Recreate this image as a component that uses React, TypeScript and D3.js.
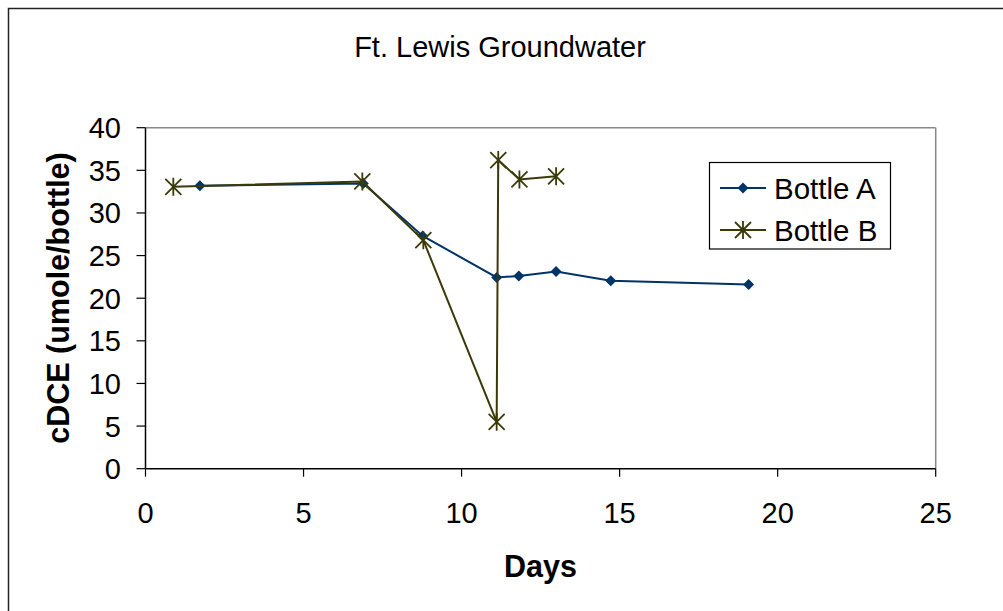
import React from "react";
import * as d3 from "d3";

const daysA = [1.72, 6.89, 8.77, 11.11, 11.81, 12.99, 14.72, 19.08];
const valuesA = [33.2, 33.45, 27.3, 22.44, 22.6, 23.14, 22.04, 21.6];
const daysB = [0.88, 6.86, 8.79, 11.11, 11.16, 11.83, 12.99];
const valuesB = [33.06, 33.7, 26.8, 5.5, 36.2, 33.93, 34.3];
const xTicks = [0, 5, 10, 15, 20, 25];
const yTicks = [0, 5, 10, 15, 20, 25, 30, 35, 40];
const seriesNames = ["Bottle A", "Bottle B"];

const colorA = "#003366";
const colorB = "#3a3a08";
const FONT = "Liberation Sans, Arial, sans-serif";

function Diamond({ x, y, c }: { x: number; y: number; c: string }) {
  const r = 5.5;
  return <path d={`M${x},${y - r}L${x + r},${y}L${x},${y + r}L${x - r},${y}Z`} fill={c} />;
}

function Star({ x, y, c }: { x: number; y: number; c: string }) {
  const r = 8;
  return (
    <path
      d={`M${x - r},${y - r}L${x + r},${y + r}M${x - r},${y + r}L${x + r},${y - r}M${x},${y - r - 1}L${x},${y + r + 1}`}
      stroke={c}
      strokeWidth={1.8}
      fill="none"
    />
  );
}

export default function App() {
  const x = d3.scaleLinear().domain([0, 25]).range([145.5, 935.7]);
  const y = d3.scaleLinear().domain([0, 40]).range([468.7, 127.7]);
  const ptsA = daysA.map((d, i) => [x(d), y(valuesA[i])] as [number, number]);
  const ptsB = daysB.map((d, i) => [x(d), y(valuesB[i])] as [number, number]);
  const line = d3.line();
  const [x0, x1] = x.range();
  const [y0, y1] = y.range();

  return (
    <svg
      width={1003}
      height={611}
      style={{ position: "absolute", left: 0, top: 0, background: "#fff" }}
      fontFamily={FONT}
    >
      <rect x={0} y={0} width={1003} height={611} fill="#fff" />
      <rect x={8.5} y={8.5} width={1010} height={620} fill="none" stroke="#222" strokeWidth={1.5} />
      <text x={500} y={57} fontSize={29} textAnchor="middle" fill="#000">
        Ft. Lewis Groundwater
      </text>
      {/* plot frame */}
      <line x1={x0} y1={y1} x2={x1} y2={y1} stroke="#888" strokeWidth={1.5} />
      <line x1={x1} y1={y1} x2={x1} y2={y0} stroke="#888" strokeWidth={1.5} />
      <line x1={x0} y1={y0} x2={x1} y2={y0} stroke="#000" strokeWidth={1.5} />
      <line x1={x0} y1={y0} x2={x0} y2={y1} stroke="#000" strokeWidth={1.5} />
      {yTicks.map((t) => (
        <g key={"y" + t}>
          <line x1={x0 - 9} x2={x0} y1={y(t)} y2={y(t)} stroke="#000" strokeWidth={1.2} />
          <text x={121} y={y(t) + 10.5} fontSize={29} textAnchor="end" fill="#000">
            {t}
          </text>
        </g>
      ))}
      {xTicks.map((t) => (
        <g key={"x" + t}>
          <line x1={x(t)} x2={x(t)} y1={y0} y2={y0 + 8} stroke="#000" strokeWidth={1.2} />
          <text x={x(t)} y={523} fontSize={29} textAnchor="middle" fill="#000">
            {t}
          </text>
        </g>
      ))}
      <text x={540.5} y={577} fontSize={30.5} fontWeight="bold" textAnchor="middle" fill="#000">
        Days
      </text>
      <text
        transform={`translate(69,298) rotate(-90)`}
        fontSize={30.5}
        fontWeight="bold"
        textAnchor="middle"
        fill="#000"
      >
        cDCE (umole/bottle)
      </text>
      {/* series */}
      <path d={line(ptsA) || ""} fill="none" stroke={colorA} strokeWidth={2} />
      {ptsA.map((p, i) => (
        <Diamond key={"a" + i} x={p[0]} y={p[1]} c={colorA} />
      ))}
      <path d={line(ptsB) || ""} fill="none" stroke={colorB} strokeWidth={2} />
      {ptsB.map((p, i) => (
        <Star key={"b" + i} x={p[0]} y={p[1]} c={colorB} />
      ))}
      {/* legend */}
      <rect x={709.5} y={162.5} width={181} height={86.5} fill="#fff" stroke="#000" strokeWidth={1.2} />
      <line x1={720} x2={766} y1={188} y2={188} stroke={colorA} strokeWidth={2} />
      <Diamond x={743} y={188} c={colorA} />
      <text x={774} y={198.5} fontSize={29.5} fill="#000">
        {seriesNames[0]}
      </text>
      <line x1={720} x2={766} y1={230} y2={230} stroke={colorB} strokeWidth={2} />
      <Star x={743} y={230} c={colorB} />
      <text x={774} y={240.5} fontSize={29.5} fill="#000">
        {seriesNames[1]}
      </text>
    </svg>
  );
}
